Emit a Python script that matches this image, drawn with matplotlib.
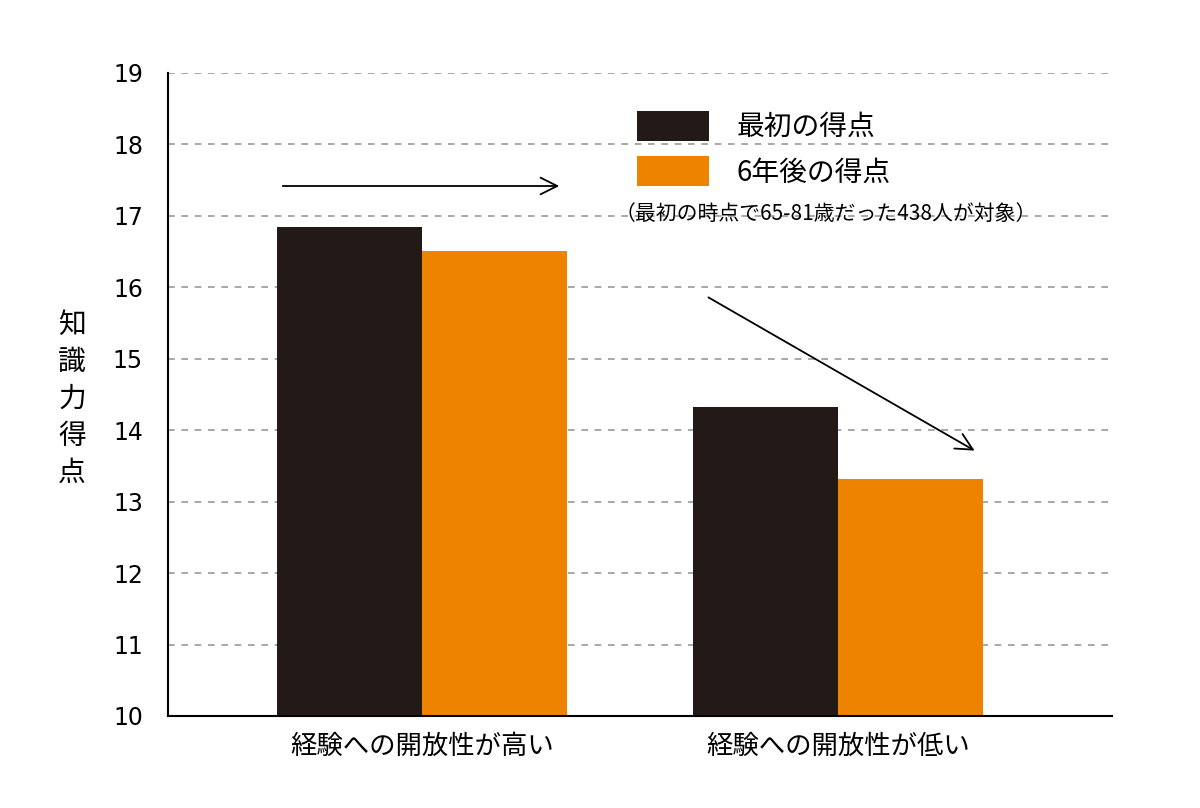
import matplotlib
matplotlib.use("Agg")
import matplotlib.pyplot as plt
import numpy as np

plt.rcParams["font.family"] = "Noto Sans CJK JP"

categories = ["経験への開放性が高い", "経験への開放性が低い"]
first_scores = [16.85, 14.33]
after6_scores = [16.51, 13.32]
series_names = ["最初の得点", "6年後の得点"]
note = "（最初の時点で65-81歳だった438人が対象）"
ylabel = "知識力得点"
yticks = list(range(10, 20))

fig = plt.figure(figsize=(12, 8.08), dpi=100)
ax = fig.add_axes([0.14, 0.1139, 0.7867, 0.7958])
x = np.arange(len(categories))
w = 0.349
ax.bar(x - w/2, first_scores, w, color="#231a18", label=series_names[0])
ax.bar(x + w/2, after6_scores, w, color="#ee8300", label=series_names[1])
ax.set_xlim(-0.611, 1.659)
ax.set_ylim(10, 19)
ax.set_yticks(yticks)
ax.set_yticklabels([str(t) for t in yticks], fontsize=17, fontfamily="DejaVu Sans")
ax.tick_params(axis="y", length=0, pad=18)
ax.set_xticks(x)
ax.set_xticklabels(categories, fontsize=19)
ax.tick_params(axis="x", length=0, pad=12)
ax.yaxis.grid(True, linestyle=(0, (4, 4)), color="#999999", linewidth=1.2)
ax.set_axisbelow(True)
for s in ["top", "right"]:
    ax.spines[s].set_visible(False)
ax.spines["left"].set_linewidth(1.5)
ax.spines["bottom"].set_linewidth(1.5)

ax.legend(loc="upper left", bbox_to_anchor=(0.47, 0.98), frameon=False,
          fontsize=20, handlelength=2.6, handleheight=1.3, labelspacing=0.5,
          handletextpad=1.0)
fig.text(615/1200, 1 - 214/808, note, fontsize=15, va="center", ha="left")

for i, ch in enumerate(ylabel):
    fig.text(72/1200, 1 - (325 + i*37)/808, ch, fontsize=20, ha="center", va="center")

H = 808
ax.annotate("", xy=(562, H-186), xytext=(280, H-186), xycoords="figure pixels",
            textcoords="figure pixels",
            arrowprops=dict(arrowstyle="->,head_length=1.2,head_width=0.6", lw=1.3, color="black"))
ax.annotate("", xy=(977, H-452), xytext=(706, H-296), xycoords="figure pixels",
            textcoords="figure pixels",
            arrowprops=dict(arrowstyle="->,head_length=1.2,head_width=0.6", lw=1.3, color="black"))

fig.savefig("out.png", dpi=100)
